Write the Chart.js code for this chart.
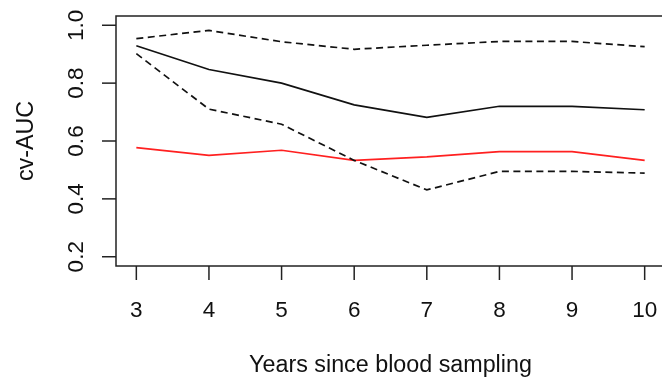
<!DOCTYPE html>
<html>
<head>
<meta charset="utf-8">
<script src="https://cdn.jsdelivr.net/npm/chart.js@4.4.0/dist/chart.umd.min.js"></script>
<style>
  html, body { margin: 0; padding: 0; background: #fff; overflow: hidden; }
  #wrap { width: 680px; height: 378px; }
</style>
</head>
<body>
<div id="wrap"><canvas id="auc" width="680" height="378"></canvas></div>
<script>
// values
const years = [3, 4, 5, 6, 7, 8, 9, 10];
const cvAuc = [0.929, 0.847, 0.800, 0.725, 0.682, 0.720, 0.720, 0.708];
const upperCi = [0.954, 0.982, 0.943, 0.917, 0.931, 0.944, 0.944, 0.926];
const lowerCi = [0.902, 0.710, 0.658, 0.533, 0.431, 0.495, 0.495, 0.489];
const refAuc = [0.577, 0.550, 0.568, 0.533, 0.545, 0.563, 0.563, 0.533];

const xTicks = years;
const xTickLabels = ['3', '4', '5', '6', '7', '8', '9', '10'];
const yTicks = [0.2, 0.4, 0.6, 0.8, 1.0];
const yTickLabels = ['0.2', '0.4', '0.6', '0.8', '1.0'];

const FONT = '22.5px "Liberation Sans", Arial, sans-serif';
const TITLE_FONT = '23.3px "Liberation Sans", Arial, sans-serif';
const TICK = 14;

function pairs(vals) {
    return years.map((yr, i) => ({ x: yr, y: vals[i] }));
}

// base-graphics style box, ticks and labels, placed with the chart's scales
const rAxes = {
    id: 'rAxes',
    afterDraw(chart) {
        const ctx = chart.ctx;
        const a = chart.chartArea;
        const sx = chart.scales.x;
        const sy = chart.scales.y;
        ctx.save();
        ctx.strokeStyle = '#222';
        ctx.lineWidth = 1.5;
        ctx.strokeRect(a.left, a.top, a.right - a.left, a.bottom - a.top);

        ctx.fillStyle = '#111';
        ctx.font = FONT;
        ctx.textAlign = 'center';
        ctx.textBaseline = 'alphabetic';

        // x axis
        xTicks.forEach((v, i) => {
            const px = sx.getPixelForValue(v);
            ctx.beginPath();
            ctx.moveTo(px, a.bottom);
            ctx.lineTo(px, a.bottom + TICK);
            ctx.stroke();
            ctx.fillText(xTickLabels[i], px, a.bottom + 51);
        });

        // y axis, labels turned like R does
        yTicks.forEach((v, i) => {
            const py = sy.getPixelForValue(v);
            ctx.beginPath();
            ctx.moveTo(a.left, py);
            ctx.lineTo(a.left - TICK, py);
            ctx.stroke();
            ctx.save();
            ctx.translate(a.left - 33, py);
            ctx.rotate(-Math.PI / 2);
            ctx.fillText(yTickLabels[i], 0, 0);
            ctx.restore();
        });

        ctx.font = TITLE_FONT;
        ctx.fillText('Years since blood sampling', (a.left + a.right) / 2, a.bottom + 106);
        ctx.save();
        ctx.translate(33, (a.top + a.bottom) / 2);
        ctx.rotate(-Math.PI / 2);
        ctx.fillText('cv-AUC', 0, 0);
        ctx.restore();

        ctx.restore();
    }
};

const lineStyle = { pointRadius: 0, borderWidth: 1.7, tension: 0, fill: false };
const dash = [7, 4.5];

new Chart(document.getElementById('auc'), {
    type: 'line',
    data: {
        datasets: [
            Object.assign({ label: 'cv-AUC', data: pairs(cvAuc), borderColor: '#111' }, lineStyle),
            Object.assign({ label: 'upper', data: pairs(upperCi), borderColor: '#111', borderDash: dash }, lineStyle),
            Object.assign({ label: 'lower', data: pairs(lowerCi), borderColor: '#111', borderDash: dash }, lineStyle),
            Object.assign({ label: 'reference', data: pairs(refAuc), borderColor: '#ff2020' }, lineStyle)
        ]
    },
    options: {
        responsive: false,
        animation: false,
        layout: { padding: { left: 116, top: 16, right: 15, bottom: 112 } },
        plugins: { legend: { display: false }, tooltip: { enabled: false } },
        scales: {
            x: { type: 'linear', min: 2.72, max: 10.28, display: false },
            y: { type: 'linear', min: 0.168, max: 1.032, display: false }
        }
    },
    plugins: [rAxes]
});
</script>
</body>
</html>
